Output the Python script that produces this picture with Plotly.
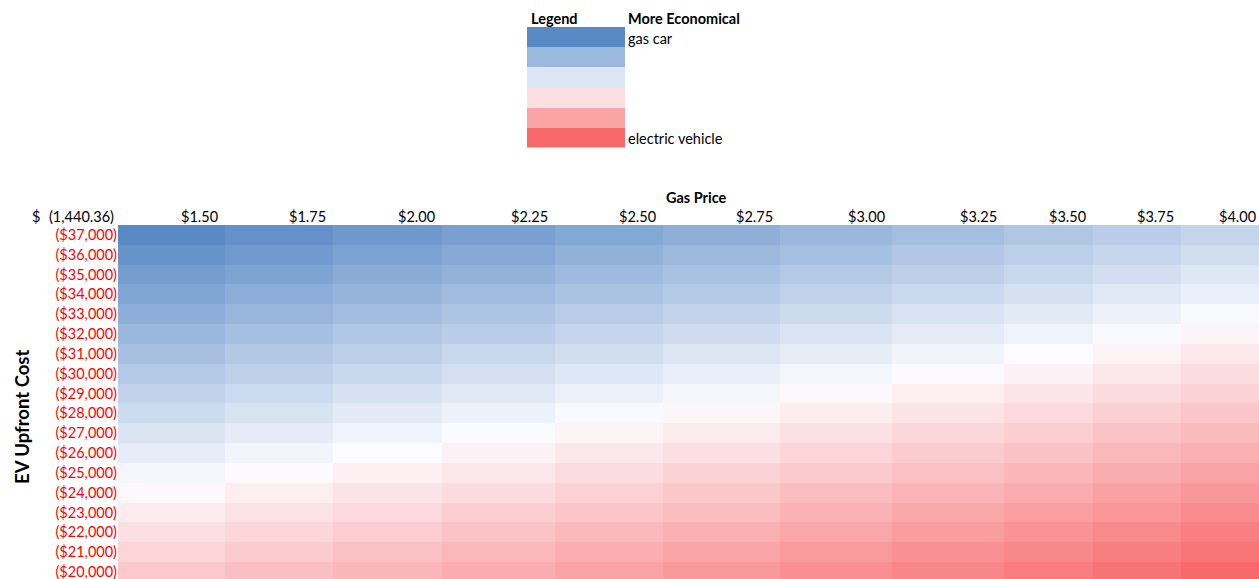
import numpy as np
import plotly.graph_objects as go

# ---- data -------------------------------------------------------------
gas_prices = [1.50, 1.75, 2.00, 2.25, 2.50, 2.75, 3.00, 3.25, 3.50, 3.75, 4.00]
ev_costs = [37000, 36000, 35000, 34000, 33000, 32000, 31000, 30000, 29000,
            28000, 27000, 26000, 25000, 24000, 23000, 22000, 21000, 20000]

# lifetime EV advantage ($) for each EV cost (rows) x gas price (columns)
ev_savings = [
    [-12625, -11800, -10975, -10150, -9325, -8500, -7675, -6850, -6025, -5200, -4375],
    [-11625, -10800, -9975, -9150, -8325, -7500, -6675, -5850, -5025, -4200, -3375],
    [-10625, -9800, -8975, -8150, -7325, -6500, -5675, -4850, -4025, -3200, -2375],
    [-9625, -8800, -7975, -7150, -6325, -5500, -4675, -3850, -3025, -2200, -1375],
    [-8625, -7800, -6975, -6150, -5325, -4500, -3675, -2850, -2025, -1200, -375],
    [-7625, -6800, -5975, -5150, -4325, -3500, -2675, -1850, -1025, -200, 625],
    [-6625, -5800, -4975, -4150, -3325, -2500, -1675, -850, -25, 800, 1625],
    [-5625, -4800, -3975, -3150, -2325, -1500, -675, 150, 975, 1800, 2625],
    [-4625, -3800, -2975, -2150, -1325, -500, 325, 1150, 1975, 2800, 3625],
    [-3625, -2800, -1975, -1150, -325, 500, 1325, 2150, 2975, 3800, 4625],
    [-2625, -1800, -975, -150, 675, 1500, 2325, 3150, 3975, 4800, 5625],
    [-1625, -800, 25, 850, 1675, 2500, 3325, 4150, 4975, 5800, 6625],
    [-625, 200, 1025, 1850, 2675, 3500, 4325, 5150, 5975, 6800, 7625],
    [375, 1200, 2025, 2850, 3675, 4500, 5325, 6150, 6975, 7800, 8625],
    [1375, 2200, 3025, 3850, 4675, 5500, 6325, 7150, 7975, 8800, 9625],
    [2375, 3200, 4025, 4850, 5675, 6500, 7325, 8150, 8975, 9800, 10625],
    [3375, 4200, 5025, 5850, 6675, 7500, 8325, 9150, 9975, 10800, 11625],
    [4375, 5200, 6025, 6850, 7675, 8500, 9325, 10150, 10975, 11800, 12625],
]
base_result = -1440.36

legend_levels = [1, 2, 3, 4, 5, 6]
legend_top_note = "gas car"
legend_bottom_note = "electric vehicle"

# ---- sheet geometry / style ------------------------------------------
W, H = 1259, 579
col_widths = [107, 108, 109, 113, 108, 117, 112, 112, 89, 88, 89]
grid_left, grid_top, row_height = 118, 225, 19.83
legend_box = dict(left=527, right=625, top=27, bottom=147.5)

FONT = "Lato"
CELL_SIZE = 14.5
BLUE, WHITE, RED = "#5A8AC6", "#FCFCFF", "#F8696B"


def px_x(px):
    return px / W


def px_y(py):
    return (H - py) / H


def three_color_scale(values):
    vals = np.asarray(values, dtype=float)
    lo, hi, mid = vals.min(), vals.max(), np.median(vals)
    p = (mid - lo) / (hi - lo)
    return [[0, BLUE], [p, WHITE], [1, RED]], lo, hi


z = np.array(ev_savings, dtype=float)
x_edges = np.concatenate([[0], np.cumsum(col_widths)])
y_edges = np.arange(len(ev_costs) + 1)
scale, zlo, zhi = three_color_scale(z)

fig = go.Figure()
fig.add_trace(go.Heatmap(
    z=z, x=x_edges, y=y_edges,
    colorscale=scale, zmin=zlo, zmax=zhi, showscale=False,
    xaxis="x", yaxis="y", hoverinfo="skip",
))

lscale, llo, lhi = three_color_scale(legend_levels)
fig.add_trace(go.Heatmap(
    z=[[v] for v in legend_levels], x=[0, 1],
    y=np.arange(len(legend_levels) + 1),
    colorscale=lscale, zmin=llo, zmax=lhi, showscale=False,
    xaxis="x2", yaxis="y2", hoverinfo="skip",
))

n_rows = len(ev_costs)
fig.update_layout(
    width=W, height=H,
    margin=dict(l=0, r=0, t=0, b=0),
    paper_bgcolor="white", plot_bgcolor="white",
    font=dict(family=FONT, size=CELL_SIZE, color="black"),
    xaxis=dict(domain=[px_x(grid_left), 1], range=[0, W - grid_left],
               showticklabels=False, showgrid=False, zeroline=False,
               ticks="", showline=False, fixedrange=True),
    yaxis=dict(domain=[0, px_y(grid_top)],
               range=[(H - grid_top) / row_height, 0],
               tickvals=np.arange(n_rows) + 0.5,
               ticktext=[f"(${c:,.0f})" for c in ev_costs],
               tickfont=dict(family=FONT, size=CELL_SIZE, color="#FF0000"),
               ticklabeloverflow="allow",
               showgrid=False, zeroline=False, ticks="", showline=False,
               automargin=False, fixedrange=True),
    xaxis2=dict(domain=[px_x(legend_box["left"]), px_x(legend_box["right"])],
                range=[0, 1], visible=False, fixedrange=True),
    yaxis2=dict(domain=[px_y(legend_box["bottom"]), px_y(legend_box["top"])],
                range=[len(legend_levels), 0], visible=False, fixedrange=True),
)

ann = []
# column headers (right aligned inside each column, kept inside the page)
for edge, g in zip(x_edges[1:], gas_prices):
    right_px = min(grid_left + edge - 5, W - 1)
    ann.append(dict(x=px_x(right_px), y=px_y(217), xref="paper", yref="paper",
                    xanchor="right", yanchor="middle",
                    text=f"${g:.2f}", showarrow=False))
# corner cell: accounting-style value
ann.append(dict(x=px_x(30), y=px_y(217), xref="paper", yref="paper",
                xanchor="left", yanchor="middle", text="$", showarrow=False))
ann.append(dict(x=px_x(116), y=px_y(217), xref="paper", yref="paper",
                xanchor="right", yanchor="middle",
                text=f"({abs(base_result):,.2f})" if base_result < 0 else f"{base_result:,.2f}",
                showarrow=False))
# axis titles
ann.append(dict(x=px_x(697), y=px_y(197), xref="paper", yref="paper",
                xanchor="center", yanchor="middle", text="<b>Gas Price</b>",
                showarrow=False))
ann.append(dict(x=px_x(22), y=px_y(417), xref="paper", yref="paper",
                xanchor="center", yanchor="middle", text="<b>EV Upfront Cost</b>",
                textangle=-90, font=dict(size=18.5), showarrow=False))
# legend texts
ann.append(dict(x=px_x(529), y=px_y(19), xref="paper", yref="paper",
                xanchor="left", yanchor="middle", text="<b>Legend</b>", showarrow=False))
ann.append(dict(x=px_x(626), y=px_y(19), xref="paper", yref="paper",
                xanchor="left", yanchor="middle", text="<b>More Economical</b>",
                showarrow=False))
ann.append(dict(x=px_x(626), y=px_y(38.5), xref="paper", yref="paper",
                xanchor="left", yanchor="middle", text=legend_top_note, showarrow=False))
ann.append(dict(x=px_x(626), y=px_y(138.5), xref="paper", yref="paper",
                xanchor="left", yanchor="middle", text=legend_bottom_note,
                showarrow=False))
fig.update_layout(annotations=ann)

fig.write_html("out.html")
